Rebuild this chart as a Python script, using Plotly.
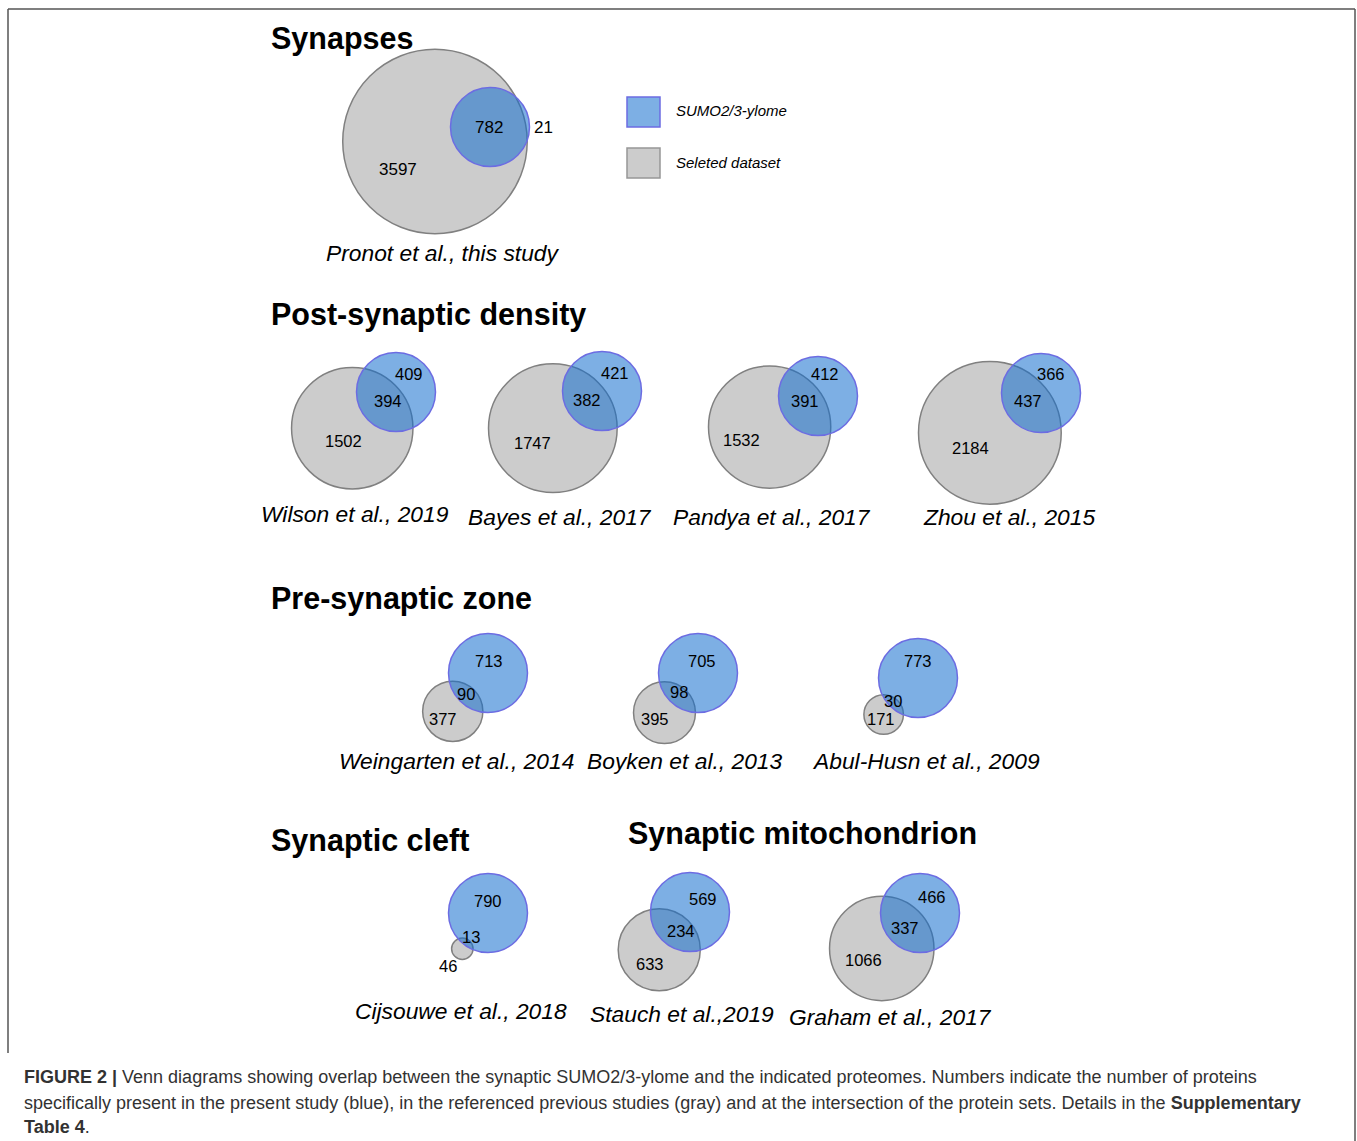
import math
import plotly.graph_objects as go

# ---------------- data ----------------
diagram_labels = ["Pronot et al., this study", "Wilson et al., 2019", "Bayes et al., 2017",
                  "Pandya et al., 2017", "Zhou et al., 2015", "Weingarten et al., 2014",
                  "Boyken et al., 2013", "Abul-Husn et al., 2009", "Cijsouwe et al., 2018",
                  "Stauch et al.,2019", "Graham et al., 2017"]
dataset_only = [3597, 1502, 1747, 1532, 2184, 377, 395, 171, 46, 633, 1066]
shared = [782, 394, 382, 391, 437, 90, 98, 30, 13, 234, 337]
sumo_only = [21, 409, 421, 412, 366, 713, 705, 773, 790, 569, 466]
group_titles = ["Synapses", "Post-synaptic density", "Pre-synaptic zone",
                "Synaptic cleft", "Synaptic mitochondrion"]
legend_labels = ["SUMO2/3-ylome", "Seleted dataset"]
caption_lines = [
    "<b>FIGURE 2 |</b> Venn diagrams showing overlap between the synaptic SUMO2/3-ylome and the indicated proteomes. Numbers indicate the number of proteins",
    "specifically present in the present study (blue), in the referenced previous studies (gray) and at the intersection of the protein sets. Details in the <b>Supplementary</b>",
    "<b>Table 4</b>.",
]

# ---------------- layout (pixel space) ----------------
W, H = 1357, 1141
R_SUMO = 39.5
blue_cx = [490, 396, 602, 818, 1041, 488, 698, 918, 488, 690, 920]
blue_cy = [127, 392, 391, 396, 393, 673, 673, 678, 913, 912, 913]
angle_deg = [14.8, 39.6, 37.1, 32.7, 37.9, 47.4, 49.8, 46.7, 54.3, 50.8, 42.8]
gray_lab_off = [(-37, 28), (-9, 13), (-20, 15), (-28, 13), (-19, 15), (-10, 8), (-9, 6),
                (-3, 5), (-14, 17), (-9, 14), (-18, 12)]
sumo_lab_off = [(53, 0), (13, -18), (13, -18), (7, -22), (10, -19), (1, -12), (4, -12),
                (0, -17), (0, -12), (13, -13), (12, -16)]
shared_lab_off = [(-1, 0), (-8, 9), (-15, 9), (-13, 5), (-13, 8), (-22, 21), (-19, 19),
                  (-25, 23), (-17, 24), (-9, 19), (-15, 15)]
sub_x = [442, 355, 560, 772, 1009, 456, 684, 926, 461, 682, 890]
sub_y = [253, 514, 517, 517, 517, 761, 761, 761, 1011, 1014, 1017]
title_x = [269, 269, 269, 269, 626]
title_y = [38, 314, 598, 840, 833]

FONT = "Liberation Sans, Arial, Helvetica, sans-serif"
GRAY_FILL = "rgb(204,204,204)"
GRAY_LINE = "rgb(128,128,128)"
BLUE_FILL = "rgba(19,110,206,0.55)"
BLUE_LINE = "rgb(108,108,226)"


def lens_area(d, r1, r2):
    if d >= r1 + r2:
        return 0.0
    if d <= abs(r1 - r2):
        return math.pi * min(r1, r2) ** 2
    a1 = r1 * r1 * math.acos((d * d + r1 * r1 - r2 * r2) / (2 * d * r1))
    a2 = r2 * r2 * math.acos((d * d + r2 * r2 - r1 * r1) / (2 * d * r2))
    a3 = 0.5 * math.sqrt((-d + r1 + r2) * (d + r1 - r2) * (d - r1 + r2) * (d + r1 + r2))
    return a1 + a2 - a3


def solve_d(r1, r2, target):
    lo, hi = abs(r1 - r2) + 1e-9, r1 + r2
    for _ in range(200):
        mid = (lo + hi) / 2
        if lens_area(mid, r1, r2) > target:
            lo = mid
        else:
            hi = mid
    return (lo + hi) / 2


fig = go.Figure()
fig.add_trace(go.Scatter(x=[0, W], y=[0, H], mode="markers",
                         marker=dict(opacity=0), hoverinfo="skip", showlegend=False))

shapes = []
annotations = []

for i in range(len(diagram_labels)):
    sumo_total = sumo_only[i] + shared[i]
    gray_total = dataset_only[i] + shared[i]
    unit = math.pi * R_SUMO ** 2 / sumo_total
    rg = math.sqrt(gray_total * unit / math.pi)
    rb = R_SUMO
    d = solve_d(rg, rb, shared[i] * unit)
    th = math.radians(angle_deg[i])
    bx, by = blue_cx[i], blue_cy[i]
    gx, gy = bx - d * math.cos(th), by + d * math.sin(th)

    shapes.append(dict(type="circle", xref="x", yref="y",
                       x0=gx - rg, x1=gx + rg, y0=gy - rg, y1=gy + rg,
                       fillcolor=GRAY_FILL, line=dict(color=GRAY_LINE, width=1.5)))
    shapes.append(dict(type="circle", xref="x", yref="y",
                       x0=bx - rb, x1=bx + rb, y0=by - rb, y1=by + rb,
                       fillcolor=BLUE_FILL, line=dict(color=BLUE_LINE, width=1.5)))

    fs = 17 if i == 0 else 16.5
    for val, (ox, oy), (cx, cy) in [
        (dataset_only[i], gray_lab_off[i], (gx, gy)),
        (sumo_only[i], sumo_lab_off[i], (bx, by)),
        (shared[i], shared_lab_off[i], (bx, by)),
    ]:
        annotations.append(dict(x=cx + ox, y=cy + oy, xref="x", yref="y", text=str(val),
                                showarrow=False, xanchor="center", yanchor="middle",
                                font=dict(family=FONT, size=fs, color="black")))

    annotations.append(dict(x=sub_x[i], y=sub_y[i], xref="x", yref="y",
                            text="<i>" + diagram_labels[i] + "</i>", showarrow=False,
                            xanchor="center", yanchor="middle",
                            font=dict(family=FONT, size=22.8, color="black")))

for t, tx, ty in zip(group_titles, title_x, title_y):
    annotations.append(dict(x=tx, y=ty, xref="x", yref="y", text="<b>" + t + "</b>",
                            showarrow=False, xanchor="left", yanchor="middle",
                            font=dict(family=FONT, size=30.5, color="black")))

# legend swatches
shapes.append(dict(type="rect", xref="x", yref="y", x0=627, x1=660, y0=97, y1=127,
                   fillcolor="rgb(125,175,228)", line=dict(color=BLUE_LINE, width=1.5)))
shapes.append(dict(type="rect", xref="x", yref="y", x0=627, x1=660, y0=148, y1=178,
                   fillcolor=GRAY_FILL, line=dict(color="rgb(150,150,150)", width=1.5)))
for lab, ly in zip(legend_labels, [110, 162]):
    annotations.append(dict(x=674, y=ly, xref="x", yref="y", text="<i>" + lab + "</i>",
                            showarrow=False, xanchor="left", yanchor="middle",
                            font=dict(family=FONT, size=15, color="black")))

# panel border
border = dict(color="rgb(85,85,85)", width=1.5)
shapes.append(dict(type="line", xref="x", yref="y", x0=8, x1=1355, y0=9, y1=9, line=border))
shapes.append(dict(type="line", xref="x", yref="y", x0=8, x1=8, y0=9, y1=1053, line=border))
shapes.append(dict(type="line", xref="x", yref="y", x0=1355, x1=1355, y0=9, y1=1141, line=border))

# caption
for line, ly in zip(caption_lines, [1077, 1103, 1127]):
    annotations.append(dict(x=22, y=ly, xref="x", yref="y", text=line, showarrow=False,
                            xanchor="left", yanchor="middle",
                            font=dict(family=FONT, size=18, color="rgb(50,50,50)")))

fig.update_layout(
    width=W, height=H, margin=dict(l=0, r=0, t=0, b=0),
    paper_bgcolor="white", plot_bgcolor="white",
    xaxis=dict(range=[0, W], visible=False, fixedrange=True),
    yaxis=dict(range=[H, 0], visible=False, fixedrange=True),
    shapes=shapes, annotations=annotations, showlegend=False,
)

fig.write_html("out.html", config={"displayModeBar": False},
               post_script="document.body.style.margin='0';document.body.style.overflow='hidden';")
